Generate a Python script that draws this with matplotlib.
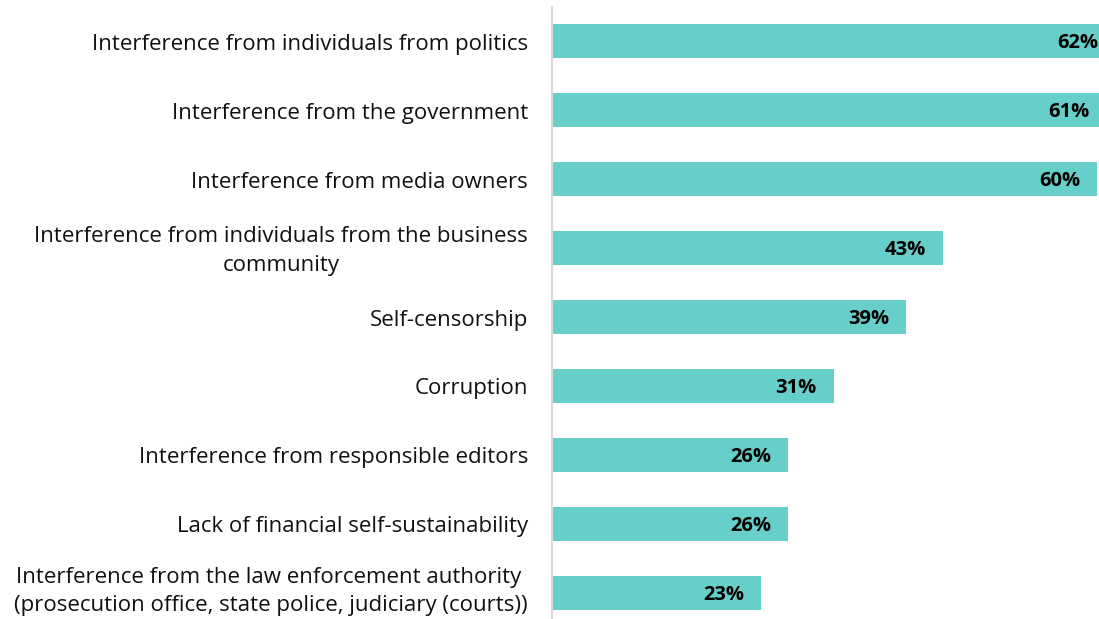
import matplotlib.pyplot as plt

# data
categories = [
    "Interference from individuals from politics",
    "Interference from the government",
    "Interference from media owners",
    "Interference from individuals from the business\ncommunity",
    "Self-censorship",
    "Corruption",
    "Interference from responsible editors",
    "Lack of financial self-sustainability",
    "Interference from the law enforcement authority \n(prosecution office, state police, judiciary (courts))",
]
values = [62, 61, 60, 43, 39, 31, 26, 26, 23]
value_labels = ["62%", "61%", "60%", "43%", "39%", "31%", "26%", "26%", "23%"]

plt.rcParams['font.family'] = ['Open Sans', 'DejaVu Sans']

fig = plt.figure(figsize=(10.99, 6.19), dpi=100)
ax = fig.add_axes([552 / 1099, 0, 1 - 552 / 1099, 612 / 619])

pos = list(range(len(categories)))
ax.barh(pos, values, height=0.49, color='#66CFCA')

# value labels inside the bar ends
for p, v, lab in zip(pos, values, value_labels):
    ax.annotate(lab, xy=(v, p), xytext=(-17, -2), textcoords='offset pixels',
                ha='right', va='center', fontsize=14.5, fontweight='bold',
                color='black', annotation_clip=False)

# category labels left of the axis line
for p, cat in zip(pos, categories):
    yy = p - 0.07 if p == pos[-1] else p  # keep the bottom label inside the picture
    ax.annotate(cat, xy=(0, yy), xycoords=('axes fraction', 'data'),
                xytext=(-24, -3), textcoords='offset pixels',
                ha='right', va='center', multialignment='center',
                fontsize=16, color='#111111', linespacing=1.45,
                annotation_clip=False)

ax.set_xlim(0, 60.2)
ax.set_ylim(8.377, -0.493)
ax.set_yticks([])
ax.set_xticks([])

for s in ['top', 'right', 'bottom']:
    ax.spines[s].set_visible(False)
ax.spines['left'].set_color('#D9D9D9')
ax.spines['left'].set_linewidth(1.5)

fig.savefig('out.png', dpi=100)
